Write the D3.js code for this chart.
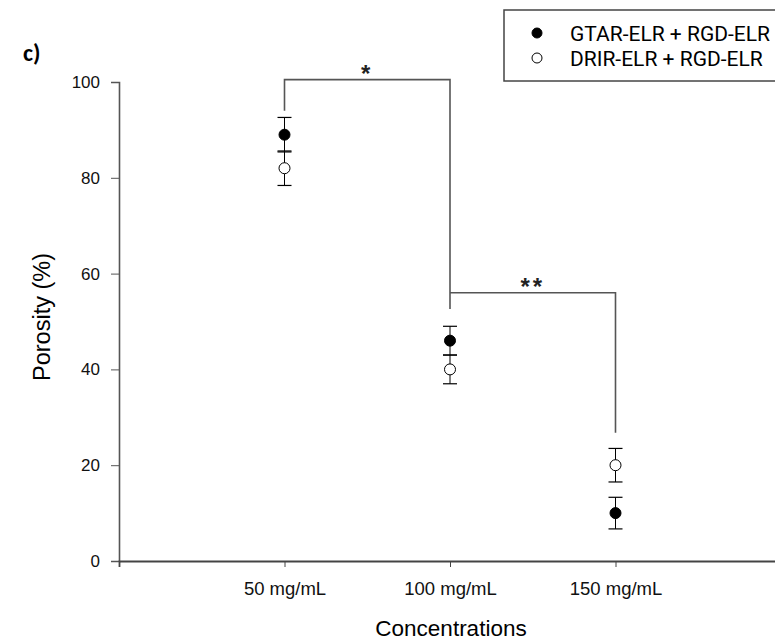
<!DOCTYPE html>
<html>
<head>
<meta charset="utf-8">
<script src="https://cdn.jsdelivr.net/npm/d3@7"></script>
<style>
  body { margin: 0; background: #fff; }
  svg { display: block; font-family: "Liberation Sans", Arial, sans-serif; }
</style>
</head>
<body>
<svg id="chart" width="775" height="641"></svg>
<script>
// Data
const concentrations = ["50 mg/mL", "100 mg/mL", "150 mg/mL"];
const gtarMean = [89, 46, 10];
const gtarErr = [3.6, 3, 3.3];
const drirMean = [82, 40, 20];
const drirErr = [3.6, 3, 3.5];
const yTicks = [0, 20, 40, 60, 80, 100];
const seriesNames = ["GTAR-ELR + RGD-ELR", "DRIR-ELR + RGD-ELR"];

// Significance brackets (category indexes, values in %)
const bracketFrom = [0, 1];
const bracketTo = [1, 2];
const bracketTop = [100.5, 56];
const bracketLeftEnd = [94, 56];
const bracketRightEnd = [52.6, 26.8];
const bracketLabel = ["*", "**"];

const svg = d3.select("#chart");

// Scales
const x = d3.scaleLinear().domain([0, 4]).range([119, 781]);
const y = d3.scaleLinear().domain([0, 100]).range([561, 82]);

// Axes
const yAxis = svg.append("g")
  .attr("transform", "translate(119,0)")
  .call(d3.axisLeft(y).tickValues(yTicks).tickSize(8).tickPadding(11));
yAxis.attr("font-size", null).attr("font-family", null);
yAxis.select(".domain").attr("stroke", "#555").attr("stroke-width", 1.6);
yAxis.selectAll(".tick line").attr("stroke", "#555");
yAxis.selectAll(".tick text").style("font-size", "17px").attr("fill", "#111");

const xAxis = svg.append("g")
  .attr("transform", "translate(0,561)")
  .call(d3.axisBottom(x).tickValues([1, 2, 3])
    .tickFormat((d) => concentrations[d - 1]).tickSize(6).tickPadding(15));
xAxis.attr("font-size", null).attr("font-family", null);
xAxis.select(".domain").attr("stroke", "#444").attr("stroke-width", 1.8);
xAxis.selectAll(".tick line").attr("stroke", "#444");
xAxis.selectAll(".tick text").style("font-size", "18.5px").attr("fill", "#111");

// Axis titles
svg.append("text")
  .attr("transform", "translate(50,317) rotate(-90)")
  .attr("text-anchor", "middle")
  .style("font-size", "23.5px")
  .text("Porosity (%)");

svg.append("text")
  .attr("x", 451).attr("y", 636)
  .attr("text-anchor", "middle")
  .style("font-size", "22.5px")
  .text("Concentrations");

svg.append("text")
  .attr("x", 23).attr("y", 61)
  .style("font-size", "24px")
  .attr("font-weight", "bold")
  .attr("font-family", "Carlito, Calibri, 'Liberation Sans', sans-serif")
  .text("c)");

// Significance brackets
bracketFrom.forEach((f, i) => {
  const x1 = x(f + 1), x2 = x(bracketTo[i] + 1);
  const path = d3.path();
  path.moveTo(x1, y(bracketLeftEnd[i]));
  path.lineTo(x1, y(bracketTop[i]));
  path.lineTo(x2, y(bracketTop[i]));
  path.lineTo(x2, y(bracketRightEnd[i]));
  svg.append("path")
    .attr("d", path.toString())
    .attr("fill", "none")
    .attr("stroke", "#555")
    .attr("stroke-width", 1.6);
  svg.append("text")
    .attr("x", (x1 + x2) / 2)
    .attr("y", y(bracketTop[i]) + 2)
    .attr("text-anchor", "middle")
    .style("font-size", "24px")
    .attr("font-weight", "bold")
    .attr("letter-spacing", 3)
    .attr("fill", "#222")
    .text(bracketLabel[i]);
});

// Error bars and points
function drawSeries(means, errs, filled) {
  const g = svg.append("g");
  means.forEach((m, i) => {
    const cx = x(i + 1);
    const top = y(m + errs[i]), bot = y(m - errs[i]);
    g.append("line").attr("x1", cx).attr("x2", cx).attr("y1", top).attr("y2", bot)
      .attr("stroke", "#000").attr("stroke-width", 1);
    [top, bot].forEach((yy) => {
      g.append("line").attr("x1", cx - 7).attr("x2", cx + 7).attr("y1", yy).attr("y2", yy)
        .attr("stroke", "#000").attr("stroke-width", 1.2);
    });
  });
  g.selectAll("circle")
    .data(means)
    .enter().append("circle")
    .attr("cx", (d, i) => x(i + 1))
    .attr("cy", (d) => y(d))
    .attr("r", 5.5)
    .attr("fill", filled ? "#000" : "#fff")
    .attr("stroke", "#000")
    .attr("stroke-width", 1);
}
drawSeries(drirMean, drirErr, false);
drawSeries(gtarMean, gtarErr, true);

// Legend
const legend = svg.append("g");
legend.append("rect")
  .attr("x", 504).attr("y", 10).attr("width", 300).attr("height", 71)
  .attr("fill", "#fff").attr("stroke", "#444").attr("stroke-width", 1.5);
seriesNames.forEach((name, i) => {
  const ly = 33 + i * 25;
  legend.append("circle")
    .attr("cx", 537).attr("cy", ly).attr("r", 5)
    .attr("fill", i === 0 ? "#000" : "#fff")
    .attr("stroke", "#000").attr("stroke-width", 1);
  legend.append("text")
    .attr("x", 570).attr("y", ly + 7.5)
    .style("font-size", "21px")
    .attr("font-family", "Roboto, 'Liberation Sans', sans-serif")
    .text(name);
});
</script>
</body>
</html>
